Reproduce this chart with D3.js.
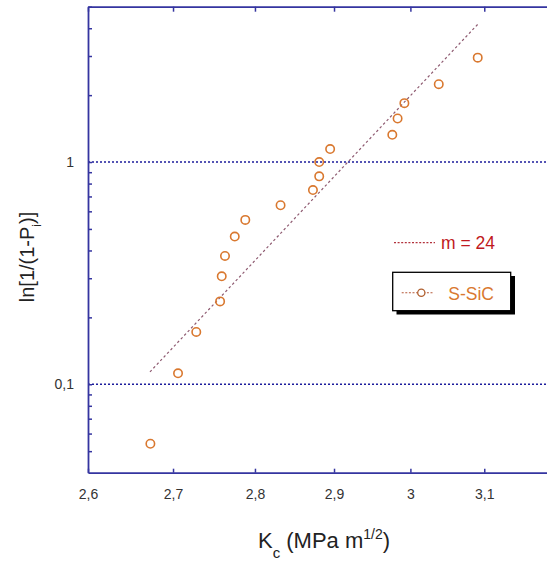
<!DOCTYPE html>
<html>
<head>
<meta charset="utf-8">
<script src="https://cdn.jsdelivr.net/npm/d3@7/dist/d3.min.js"></script>
<style>
  html, body { margin: 0; padding: 0; background: #ffffff; }
  svg { display: block; }
</style>
</head>
<body>
<svg id="chart" width="547" height="562"></svg>
<script>
// ---- data ----
const kc = [2.673, 2.706, 2.728, 2.757, 2.759, 2.763, 2.775, 2.788, 2.832, 2.873, 2.881, 2.881, 2.895, 2.976, 2.983, 2.992, 3.038, 3.091];
const lnInv = [0.054, 0.112, 0.172, 0.236, 0.306, 0.378, 0.462, 0.549, 0.639, 0.748, 0.862, 1.0, 1.144, 1.326, 1.570, 1.841, 2.240, 2.949];
const fitK = [2.6725, 3.0923];
const fitY = [0.1137, 4.209];
const xTicks = [2.6, 2.7, 2.8, 2.9, 3.0, 3.1];
const xTickLabels = ["2,6", "2,7", "2,8", "2,9", "3", "3,1"];
const yTicks = [0.05, 0.06, 0.07, 0.08, 0.09, 0.1, 0.2, 0.3, 0.4, 0.5, 0.6, 0.7, 0.8, 0.9, 1, 2, 3, 4, 5];
const yMajor = [0.1, 1];
const yMajorLabels = ["0,1", "1"];
const legendFit = "m = 24";
const legendSeries = "S-SiC";

// ---- layout ----
const svg = d3.select("#chart");
const L = 88, R = 555.8, T = 6.7, B = 472.7;
const axisColor = "#3535a0";
const orange = "#d9782f";

const x = d3.scaleLog().domain([2.6, 3.2]).range([L, R]);
const y = d3.scaleLog().domain([0.04, 5]).range([B, T]);

// gridlines at major y
svg.append("g").selectAll("line").data(yMajor).join("line")
  .attr("x1", L).attr("x2", R)
  .attr("y1", d => y(d)).attr("y2", d => y(d))
  .attr("stroke", "#1c1c9c").attr("stroke-width", 1.4)
  .attr("stroke-dasharray", "2,2");

// axes
function styleAxis(g) {
  g.selectAll("path.domain").attr("stroke", axisColor).attr("stroke-width", 1.8);
  g.selectAll(".tick line").attr("stroke", axisColor).attr("stroke-width", 1.5);
  g.selectAll("text").attr("fill", "#333").attr("font-family", "Liberation Sans, Arial, sans-serif").attr("font-size", 14);
}

const xb = svg.append("g").attr("transform", `translate(0,${B})`)
  .call(d3.axisBottom(x).tickValues(xTicks)
    .tickFormat((d, i) => xTickLabels[i]).tickSizeInner(-4).tickSizeOuter(0).tickPadding(16));
styleAxis(xb);

const xt = svg.append("g").attr("transform", `translate(0,${T})`)
  .call(d3.axisTop(x).tickValues(xTicks).tickFormat("").tickSizeInner(-5).tickSizeOuter(0));
styleAxis(xt);

const yl = svg.append("g").attr("transform", `translate(${L},0)`)
  .call(d3.axisLeft(y).tickValues(yTicks)
    .tickFormat(d => { const i = yMajor.indexOf(d); return i >= 0 ? yMajorLabels[i] : ""; })
    .tickSizeInner(-4).tickSizeOuter(0).tickPadding(14));
styleAxis(yl);

// fit line
svg.append("path")
  .datum(fitK.map((k, i) => [k, fitY[i]]))
  .attr("d", d3.line().x(d => x(d[0])).y(d => y(d[1])))
  .attr("fill", "none").attr("stroke", "#8e5a70").attr("stroke-width", 1.2)
  .attr("stroke-dasharray", "2.5,2.5");

// points
svg.append("g").selectAll("circle").data(kc.map((k, i) => [k, lnInv[i]])).join("circle")
  .attr("cx", d => x(d[0])).attr("cy", d => y(d[1])).attr("r", 4.2)
  .attr("fill", "none").attr("stroke", orange).attr("stroke-width", 1.6);

// axis titles
const font = "Liberation Sans, Arial, sans-serif";
const xt2 = svg.append("text").attr("x", 324).attr("y", 548).attr("text-anchor", "middle")
  .attr("font-family", font).attr("font-size", 22).attr("fill", "#222");
xt2.append("tspan").text("K");
xt2.append("tspan").attr("font-size", 15).attr("dy", 10).text("c");
xt2.append("tspan").attr("dy", -10).text(" (MPa m");
xt2.append("tspan").attr("font-size", 14).attr("dy", -9).text("1/2");
xt2.append("tspan").attr("dy", 9).text(")");

const yt2 = svg.append("text").attr("transform", "translate(34,257) rotate(-90)")
  .attr("text-anchor", "middle").attr("font-family", font).attr("font-size", 20).attr("fill", "#222");
yt2.append("tspan").text("ln[1/(1-P");
yt2.append("tspan").attr("font-size", 12).attr("dy", 7).text("i");
yt2.append("tspan").attr("dy", -7).text(")]");

// legend: fit
svg.append("line").attr("x1", 394).attr("x2", 435).attr("y1", 242.7).attr("y2", 242.7)
  .attr("stroke", "#b2323c").attr("stroke-width", 1.2).attr("stroke-dasharray", "2,1.6");
svg.append("text").attr("x", 441).attr("y", 248.5).attr("font-family", font).attr("font-size", 17.5)
  .attr("fill", "#c01820").text(legendFit);

// legend: series box with shadow
svg.append("rect").attr("x", 396.5).attr("y", 276).attr("width", 118.5).attr("height", 38.5).attr("fill", "#000");
svg.append("rect").attr("x", 392.7).attr("y", 272.3).attr("width", 118).attr("height", 38.4)
  .attr("fill", "#fff").attr("stroke", "#000").attr("stroke-width", 1.3);
svg.append("line").attr("x1", 401.7).attr("x2", 433.3).attr("y1", 292.7).attr("y2", 292.7)
  .attr("stroke", "#b55a3a").attr("stroke-width", 1.1).attr("stroke-dasharray", "2,1.6");
svg.append("circle").attr("cx", 421.3).attr("cy", 292.7).attr("r", 3.6)
  .attr("fill", "#fff").attr("stroke", "#b06030").attr("stroke-width", 1.3);
svg.append("text").attr("x", 448.3).attr("y", 300).attr("font-family", font).attr("font-size", 17.5)
  .attr("fill", orange).text(legendSeries);
</script>
</body>
</html>
